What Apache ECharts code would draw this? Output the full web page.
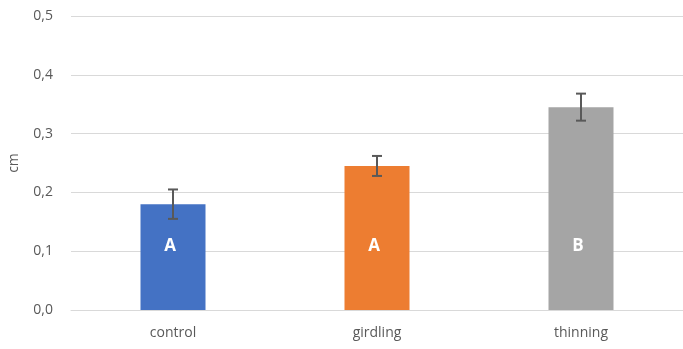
<!DOCTYPE html>
<html>
<head>
<meta charset="utf-8">
<script src="https://cdn.jsdelivr.net/npm/echarts@6/dist/echarts.min.js"></script>
<style>
  html, body { margin: 0; padding: 0; background: #fff; }
  #chart { width: 683px; height: 349px; }
</style>
</head>
<body>
<div id="chart"></div>
<script>
// Treatments and mean values (cm)
const categories = ['control', 'girdling', 'thinning'];
const means = [0.180, 0.245, 0.345];
const errors = [0.025, 0.017, 0.023];
const groupLetters = ['A', 'A', 'B'];
const barColors = ['#4472C4', '#ED7D31', '#A5A5A5'];
const yTicks = [0, 0.1, 0.2, 0.3, 0.4, 0.5];

const chart = echarts.init(document.getElementById('chart'));

const barData = means.map((v, i) => ({
  value: v,
  itemStyle: { color: barColors[i] },
  label: { formatter: groupLetters[i] }
}));

const errData = means.map((v, i) => [i, v - errors[i], v + errors[i]]);

chart.setOption({
  animation: false,
  grid: { left: 71, top: 16, width: 612, height: 294, outerBoundsMode: 'none', containLabel: false },
  xAxis: {
    type: 'category',
    data: categories,
    axisLine: { lineStyle: { color: '#d9d9d9', width: 1 } },
    axisTick: { show: false },
    axisLabel: { color: '#595959', fontSize: 14, margin: 16, fontFamily: 'Open Sans' }
  },
  yAxis: {
    type: 'value',
    min: yTicks[0],
    max: yTicks[yTicks.length - 1],
    interval: 0.1,
    name: 'cm',
    nameLocation: 'middle',
    nameGap: 50,
    nameTextStyle: { color: '#595959', fontSize: 14, fontFamily: 'Open Sans' },
    axisLine: { show: false },
    axisTick: { show: false },
    splitLine: { lineStyle: { color: '#d9d9d9', width: 1 } },
    axisLabel: {
      color: '#595959', fontSize: 14, margin: 18, fontFamily: 'Open Sans',
      formatter: v => v.toFixed(1).replace('.', ',')
    }
  },
  series: [
    {
      type: 'bar',
      data: barData,
      barWidth: 65,
      label: {
        show: true,
        position: 'insideBottom',
        distance: 55,
        offset: [-3, 0],
        color: '#ffffff',
        fontSize: 17,
        fontWeight: 'bold',
        fontFamily: 'Open Sans'
      }
    },
    {
      type: 'custom',
      data: errData,
      z: 10,
      renderItem: function (params, api) {
        const x = api.value(0);
        const lo = api.coord([x, api.value(1)]);
        const hi = api.coord([x, api.value(2)]);
        const half = 5;
        const style = { stroke: '#595959', lineWidth: 2 };
        return {
          type: 'group',
          children: [
            { type: 'line', shape: { x1: lo[0], y1: lo[1], x2: hi[0], y2: hi[1] }, style },
            { type: 'line', shape: { x1: lo[0] - half, y1: lo[1], x2: lo[0] + half, y2: lo[1] }, style },
            { type: 'line', shape: { x1: hi[0] - half, y1: hi[1], x2: hi[0] + half, y2: hi[1] }, style }
          ]
        };
      }
    }
  ]
});
</script>
</body>
</html>
